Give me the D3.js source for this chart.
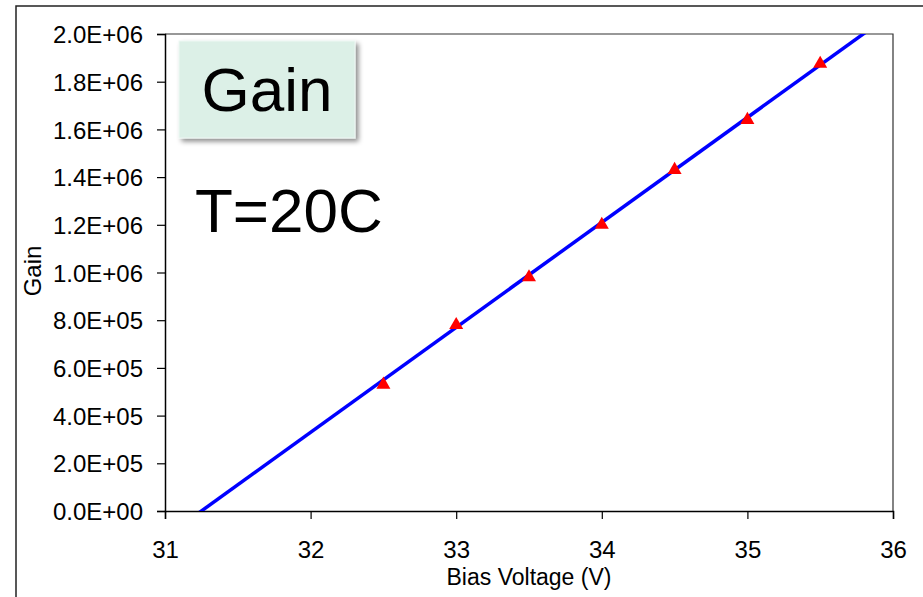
<!DOCTYPE html>
<html>
<head>
<meta charset="utf-8">
<script src="https://cdn.jsdelivr.net/npm/d3@7"></script>
<style>
  body { margin: 0; background: #fff; }
  svg text { font-family: "Liberation Sans", Arial, sans-serif; fill: #000; }
</style>
</head>
<body>
<svg id="chart" width="923" height="597"></svg>
<script>
// measured points
var biasVoltage = [32.5, 33, 33.5, 34, 34.5, 35, 35.5];
var gainValues  = [530000, 780000, 980000, 1200000, 1430000, 1640000, 1875000];

// linear fit: gain = slope * (V - v0)
var fitSlope = 440000;
var fitV0 = 31.25;

var xTicks = [31, 32, 33, 34, 35, 36];
var yTicks = [0, 200000, 400000, 600000, 800000, 1000000, 1200000, 1400000, 1600000, 1800000, 2000000];

var svg = d3.select("#chart"),
    margin = {top: 34, right: 30, bottom: 86, left: 165},
    width = +svg.attr("width") - margin.left - margin.right,
    height = +svg.attr("height") - margin.top - margin.bottom;

// outer frame (only top and left visible)
svg.append("path")
  .attr("d", "M16,597 L16,6 L923,6")
  .attr("fill", "none")
  .attr("stroke", "#222")
  .attr("stroke-width", 1.5);

const x = d3.scaleLinear().domain([31, 36]).range([0, width]);
const y = d3.scaleLinear().domain([0, 2000000]).range([height, 0]);

const g = svg.append("g")
  .attr("transform", "translate(" + margin.left + "," + margin.top + ")");

svg.append("defs").append("clipPath").attr("id", "plotclip")
  .append("rect").attr("width", width).attr("height", height);

// plot border top/right
g.append("path")
  .attr("d", "M0,0 L" + width + ",0 L" + width + "," + height)
  .attr("fill", "none")
  .attr("stroke", "#333")
  .attr("stroke-width", 1.2);

function fmt(d) {
  var e = d === 0 ? 0 : Math.floor(Math.log10(d));
  var m = d / Math.pow(10, e);
  return m.toFixed(1) + "E+" + (e < 10 ? "0" : "") + e;
}

const yAxis = g.append("g")
  .call(d3.axisLeft(y).tickValues(yTicks).tickFormat(fmt).tickSize(8).tickPadding(14));
const xAxis = g.append("g")
  .attr("transform", "translate(0," + height + ")")
  .call(d3.axisBottom(x).tickValues(xTicks).tickFormat(d3.format("d")).tickSize(8).tickPadding(22));

[yAxis, xAxis].forEach(a => {
  a.select(".domain").attr("stroke", "#000").attr("stroke-width", 1.5);
  a.selectAll(".tick line").attr("stroke", "#000").attr("stroke-width", 1.2);
  a.selectAll("text")
    .style("font-family", '"Liberation Sans", Arial, sans-serif')
    .style("font-size", "24px")
    .attr("fill", "#000");
});
yAxis.selectAll("text").attr("dy", "0.36em");
xAxis.selectAll("text").attr("dy", "0.71em");

// axis titles
svg.append("text")
  .attr("x", margin.left + x(33.5))
  .attr("y", 585)
  .attr("text-anchor", "middle")
  .style("font-size", "23px")
  .text("Bias Voltage (V)");

svg.append("text")
  .attr("transform", "translate(41,271) rotate(-90)")
  .attr("text-anchor", "middle")
  .style("font-size", "24px")
  .text("Gain");

// fit line
const plot = g.append("g").attr("clip-path", "url(#plotclip)");
var fitPts = x.domain().map(v => [v, fitSlope * (v - fitV0)]);
plot.append("path")
  .datum(fitPts)
  .attr("d", d3.line().x(d => x(d[0])).y(d => y(d[1])))
  .attr("fill", "none")
  .attr("stroke", "#0000ff")
  .attr("stroke-width", 3.5);

// data triangles
g.selectAll(".pt")
  .data(biasVoltage.map((v, i) => [v, gainValues[i]]))
  .join("path")
  .attr("class", "pt")
  .attr("transform", d => "translate(" + x(d[0]) + "," + y(d[1]) + ")")
  .attr("d", d3.symbol().type(d3.symbolTriangle).size(85))
  .attr("fill", "#ff0000");

// "Gain" label box
const shadow = svg.append("defs").append("filter").attr("id", "shadow")
  .attr("x", "-10%").attr("y", "-10%").attr("width", "130%").attr("height", "130%");
shadow.append("feDropShadow")
  .attr("dx", 3).attr("dy", 3).attr("stdDeviation", 2.5)
  .attr("flood-color", "#000").attr("flood-opacity", 0.45);

svg.append("rect")
  .attr("x", 179).attr("y", 41)
  .attr("width", 176).attr("height", 97)
  .attr("fill", "#dcf0e7")
  .attr("stroke", "#eef7f3")
  .attr("stroke-width", 1)
  .attr("filter", "url(#shadow)");

svg.append("text")
  .attr("x", 267).attr("y", 111)
  .attr("text-anchor", "middle")
  .style("font-size", "62px")
  .text("Gain");

svg.append("text")
  .attr("x", 195).attr("y", 232)
  .style("font-size", "62px")
  .text("T=20C");
</script>
</body>
</html>
